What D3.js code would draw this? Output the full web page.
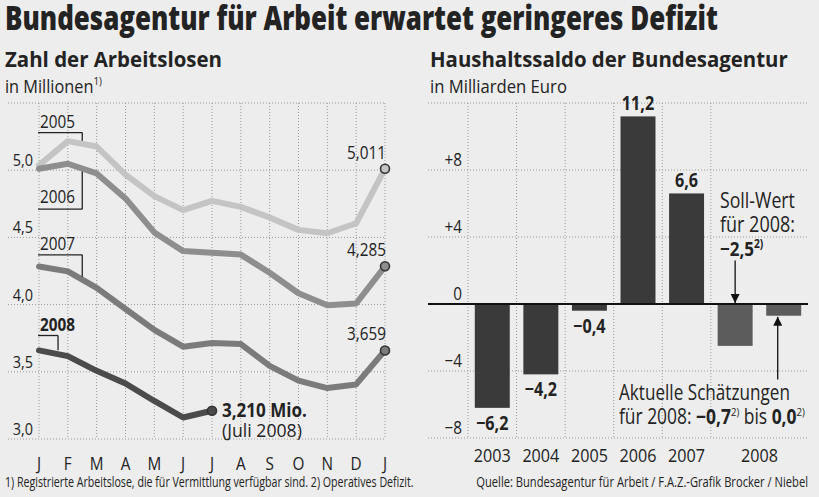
<!DOCTYPE html>
<html>
<head>
<meta charset="utf-8">
<script src="https://cdn.jsdelivr.net/npm/d3@7"></script>
<style>
body { margin: 0; background: #ededed; }
svg { display: block; font-family: "Open Sans", "Noto Sans", sans-serif; }
</style>
</head>
<body>
<svg></svg>
<script>
// left chart: unemployed persons (millions), Jan..Jan
var months = ['J', 'F', 'M', 'A', 'M', 'J', 'J', 'A', 'S', 'O', 'N', 'D', 'J']
var u2005 = [5.037, 5.216, 5.176, 4.967, 4.807, 4.703, 4.772, 4.727, 4.648, 4.556, 4.531, 4.605, 5.011]
var u2006 = [5.011, 5.048, 4.976, 4.790, 4.537, 4.398, 4.386, 4.372, 4.237, 4.084, 3.995, 4.008, 4.285]
var u2007 = [4.284, 4.247, 4.124, 3.967, 3.812, 3.687, 3.715, 3.706, 3.544, 3.434, 3.379, 3.406, 3.659]
var u2008 = [3.659, 3.617, 3.507, 3.413, 3.283, 3.160, 3.210]
var uTicks = [3.0, 3.5, 4.0, 4.5, 5.0]

// right chart: budget balance (bn euro)
var yearKeys = ['2003', '2004', '2005', '2006', '2007', '2008a', '2008b']
var saldo = [-6.2, -4.2, -0.4, 11.2, 6.6, -2.5, -0.7]
var saldoLabels = ['−6,2', '−4,2', '−0,4', '11,2', '6,6']
var sTicks = [-8, -4, 0, 4, 8]
var sTickLabels = ['−8', '−4', '0', '+4', '+8']

var W = 819, H = 497
var ink = '#232323'
var SQUEEZE = 0.85   // the original type is a condensed face

var svg = d3.select('svg').attr('width', W).attr('height', H)

function txt(x, y, s, size, weight, anchor, width) {
    var t = svg.append('text')
        .attr('x', x).attr('y', y)
        .attr('font-size', size)
        .attr('font-weight', weight || 'normal')
        .attr('text-anchor', anchor || 'start')
        .attr('fill', ink)
        .text(s)
    if (width) t.attr('data-w', width)
    return t
}

function sup(t, s) {
    t.append('tspan').attr('font-size', '0.6em').attr('dy', -8).text(s)
    t.append('tspan').attr('dy', 8).text('')
}

// headings
txt(5, 30, 'Bundesagentur für Arbeit erwartet geringeres Defizit', 33, 800, 'start', 713)
txt(5, 67, 'Zahl der Arbeitslosen', 21, 'bold', 'start', 217)
sup(txt(5, 93, 'in Millionen', 18, 'normal', 'start', 97), '1)')
txt(430, 67, 'Haushaltssaldo der Bundesagentur', 21, 'bold', 'start', 358)
txt(430, 93, 'in Milliarden Euro', 18, 'normal', 'start', 137)

// ---------- left chart ----------
var x = d3.scaleLinear().domain([0, 12]).range([39, 385])
var y = d3.scaleLinear().domain([3, 5.5]).range([439, 103])

var gridL = svg.append('g').attr('stroke', '#9a9a9a').attr('stroke-width', 1).attr('stroke-dasharray', '1,2')
gridL.selectAll('.v').data(months).enter().append('line')
    .attr('x1', function(d, i) { return x(i) }).attr('x2', function(d, i) { return x(i) })
    .attr('y1', y(5.5)).attr('y2', y(3))
gridL.selectAll('.h').data(uTicks.concat([5.5])).enter().append('line')
    .attr('x1', 8).attr('x2', x(12))
    .attr('y1', function(d) { return y(d) }).attr('y2', function(d) { return y(d) })

svg.append('g').selectAll('text').data(uTicks).enter().append('text')
    .attr('x', 33).attr('y', function(d) { return y(d) - 4 })
    .attr('text-anchor', 'end').attr('font-size', 17).attr('fill', ink)
    .text(function(d) { return d3.format('.1f')(d).replace('.', ',') })

svg.append('g').selectAll('text').data(months).enter().append('text')
    .attr('x', function(d, i) { return x(i) }).attr('y', 470)
    .attr('text-anchor', 'middle').attr('font-size', 18).attr('fill', ink)
    .text(function(d) { return d })

var line = d3.line()
    .x(function(d, i) { return x(i) })
    .y(function(d) { return y(d) })

var series = [
    { name: '2005', values: u2005, color: '#c4c4c4' },
    { name: '2006', values: u2006, color: '#8e8e8e' },
    { name: '2007', values: u2007, color: '#7b7b7b' },
    { name: '2008', values: u2008, color: '#4b4b4b' }
]

svg.append('g').selectAll('path').data(series).enter().append('path')
    .attr('fill', 'none')
    .attr('stroke', function(d) { return d.color })
    .attr('stroke-width', 6)
    .attr('stroke-linejoin', 'round')
    .attr('stroke-linecap', 'round')
    .attr('d', function(d) { return line(d.values) })

// end points
svg.append('g').selectAll('circle').data(series).enter().append('circle')
    .attr('cx', function(d) { return x(d.values.length - 1) })
    .attr('cy', function(d) { return y(d.values[d.values.length - 1]) })
    .attr('r', 4.5)
    .attr('fill', function(d) { return d.color })
    .attr('stroke', '#333').attr('stroke-width', 1.6)

// end labels
var last = function(a) { return a[a.length - 1] }
var fmt3 = function(v) { return d3.format('.3f')(v).replace('.', ',') }
;[u2005, u2006, u2007].forEach(function(a) {
    txt(x(12) + 1, y(last(a)) - 10, fmt3(last(a)), 18, 'normal', 'end')
})
txt(x(6) + 10, y(last(u2008)) + 6, fmt3(last(u2008)) + ' Mio.', 19, 'bold', 'start', 85)
txt(x(6) + 10, y(last(u2008)) + 26, '(Juli 2008)', 18, 'normal', 'start', 80)

// year brackets
function u(name) { return { '2005': u2005, '2006': u2006, '2007': u2007, '2008': u2008 }[name] }
function bracket(name, level, at, textY, bold) {
    var vals = u(name)
    var vy = y((vals[Math.floor(at)] + vals[Math.ceil(at)]) / 2)
    var ly = y(level)
    var g = svg.append('g').attr('stroke', ink).attr('stroke-width', 1.3).attr('fill', 'none')
    g.append('line').attr('x1', x(0) - 1).attr('x2', x(at)).attr('y1', ly).attr('y2', ly)
    g.append('line').attr('x1', x(at)).attr('x2', x(at)).attr('y1', ly)
        .attr('y2', vy + (vy > ly ? -3 : 3))
    txt(x(0) + 1, ly + textY, name, 18, bold ? 'bold' : 'normal')
}
bracket('2005', 5.28, 1.5, -5)
bracket('2006', 4.71, 1.5, -6)
bracket('2007', 4.37, 1.5, -5)
bracket('2008', 3.77, 0.66, -5, true)

// ---------- right chart ----------
var xR = d3.scaleBand().domain(yearKeys).range([468, 808]).paddingInner(0.28).paddingOuter(0.14)
var yR = d3.scaleLinear().domain([-8, 12]).range([438, 103])
var step = xR.step()

var gridR = svg.append('g').attr('stroke', '#9a9a9a').attr('stroke-width', 1).attr('stroke-dasharray', '1,2')
gridR.selectAll('.h').data([-8, -4, 4, 8, 12]).enter().append('line')
    .attr('x1', 428).attr('x2', 808)
    .attr('y1', function(d) { return yR(d) }).attr('y2', function(d) { return yR(d) })
gridR.selectAll('.v').data(yearKeys.slice(0, 6)).enter().append('line')
    .attr('x1', function(d) { return xR(d) - step * 0.14 })
    .attr('x2', function(d) { return xR(d) - step * 0.14 })
    .attr('y1', yR(12)).attr('y2', yR(-8))

svg.append('g').selectAll('text').data(sTicks).enter().append('text')
    .attr('x', 462).attr('y', function(d) { return yR(d) - 4 })
    .attr('text-anchor', 'end').attr('font-size', 18).attr('fill', ink)
    .text(function(d, i) { return sTickLabels[i] })

svg.append('g').selectAll('rect').data(saldo).enter().append('rect')
    .attr('x', function(d, i) { return xR(yearKeys[i]) })
    .attr('width', xR.bandwidth())
    .attr('y', function(d) { return yR(Math.max(0, d)) })
    .attr('height', function(d) { return Math.abs(yR(d) - yR(0)) })
    .attr('fill', function(d, i) { return i < 5 ? '#3a3a3a' : '#5c5c5c' })

// zero line
svg.append('line').attr('x1', 428).attr('x2', 808)
    .attr('y1', yR(0)).attr('y2', yR(0))
    .attr('stroke', '#111').attr('stroke-width', 2)

// value labels (2003-2007)
svg.append('g').selectAll('text').data(saldo.slice(0, saldoLabels.length)).enter().append('text')
    .attr('x', function(d, i) { return xR(yearKeys[i]) + xR.bandwidth() / 2 })
    .attr('y', function(d) { return d > 0 ? yR(d) - 6 : yR(d) + 22 })
    .attr('text-anchor', 'middle').attr('font-size', 19).attr('font-weight', 'bold').attr('fill', ink)
    .text(function(d, i) { return saldoLabels[i] })

// year labels
var yearLabels = ['2003', '2004', '2005', '2006', '2007']
svg.append('g').selectAll('text').data(yearLabels).enter().append('text')
    .attr('x', function(d) { return xR(d) + xR.bandwidth() / 2 })
    .attr('y', 462)
    .attr('text-anchor', 'middle').attr('font-size', 19).attr('fill', ink)
    .text(function(d) { return d })
txt((xR('2008a') + xR('2008b') + xR.bandwidth()) / 2, 462, '2008', 19, 'normal', 'middle')

// annotations
svg.append('defs').append('marker').attr('id', 'ah')
    .attr('viewBox', '0 0 10 10').attr('refX', 10).attr('refY', 5)
    .attr('markerWidth', 7).attr('markerHeight', 7).attr('orient', 'auto-start-reverse')
    .append('path').attr('d', 'M0,0L10,5L0,10z').attr('fill', '#111')

var ax1 = xR('2008a') + xR.bandwidth() / 2
svg.append('line').attr('x1', ax1).attr('x2', ax1).attr('y1', yR(2.6)).attr('y2', yR(0) - 1)
    .attr('stroke', '#111').attr('stroke-width', 1.3).attr('marker-end', 'url(#ah)')
var ax2 = xR('2008b') + xR.bandwidth() / 2 - 6
svg.append('line').attr('x1', ax2).attr('x2', ax2).attr('y1', yR(-4.5)).attr('y2', yR(-0.7) + 1)
    .attr('stroke', '#111').attr('stroke-width', 1.3).attr('marker-end', 'url(#ah)')

txt(720, 208, 'Soll-Wert', 21, 'normal', 'start', 75)
txt(720, 232, 'für 2008:', 21, 'normal', 'start', 75)
sup(txt(720, 256, '−2,5', 20, 'bold'), '2)')

txt(619, 400, 'Aktuelle Schätzungen', 21, 'normal', 'start', 171)
var t3 = txt(619, 424, 'für 2008: ', 21, 'normal', 'start', 186)
t3.append('tspan').attr('font-weight', 'bold').text('−0,7')
t3.append('tspan').attr('font-size', '0.55em').attr('dy', -8).text('2)')
t3.append('tspan').attr('dy', 8).text(' bis ')
t3.append('tspan').attr('font-weight', 'bold').text('0,0')
t3.append('tspan').attr('font-size', '0.55em').attr('dy', -8).text('2)')

// footer
txt(5, 487, '1) Registrierte Arbeitslose, die für Vermittlung verfügbar sind. 2) Operatives Defizit.', 14, 'normal', 'start', 409)
txt(808, 487, 'Quelle: Bundesagentur für Arbeit / F.A.Z.-Grafik Brocker / Niebel', 14, 'normal', 'end', 332)

// condense every text horizontally about its anchor point
svg.selectAll('text').each(function() {
    var el = d3.select(this)
    var natural = this.getComputedTextLength()
    var f = el.attr('data-w') ? +el.attr('data-w') / natural : SQUEEZE
    var ax = +el.attr('x')
    el.attr('transform', 'translate(' + ax + ',0) scale(' + f + ',1) translate(' + (-ax) + ',0)')
})
</script>
</body>
</html>
